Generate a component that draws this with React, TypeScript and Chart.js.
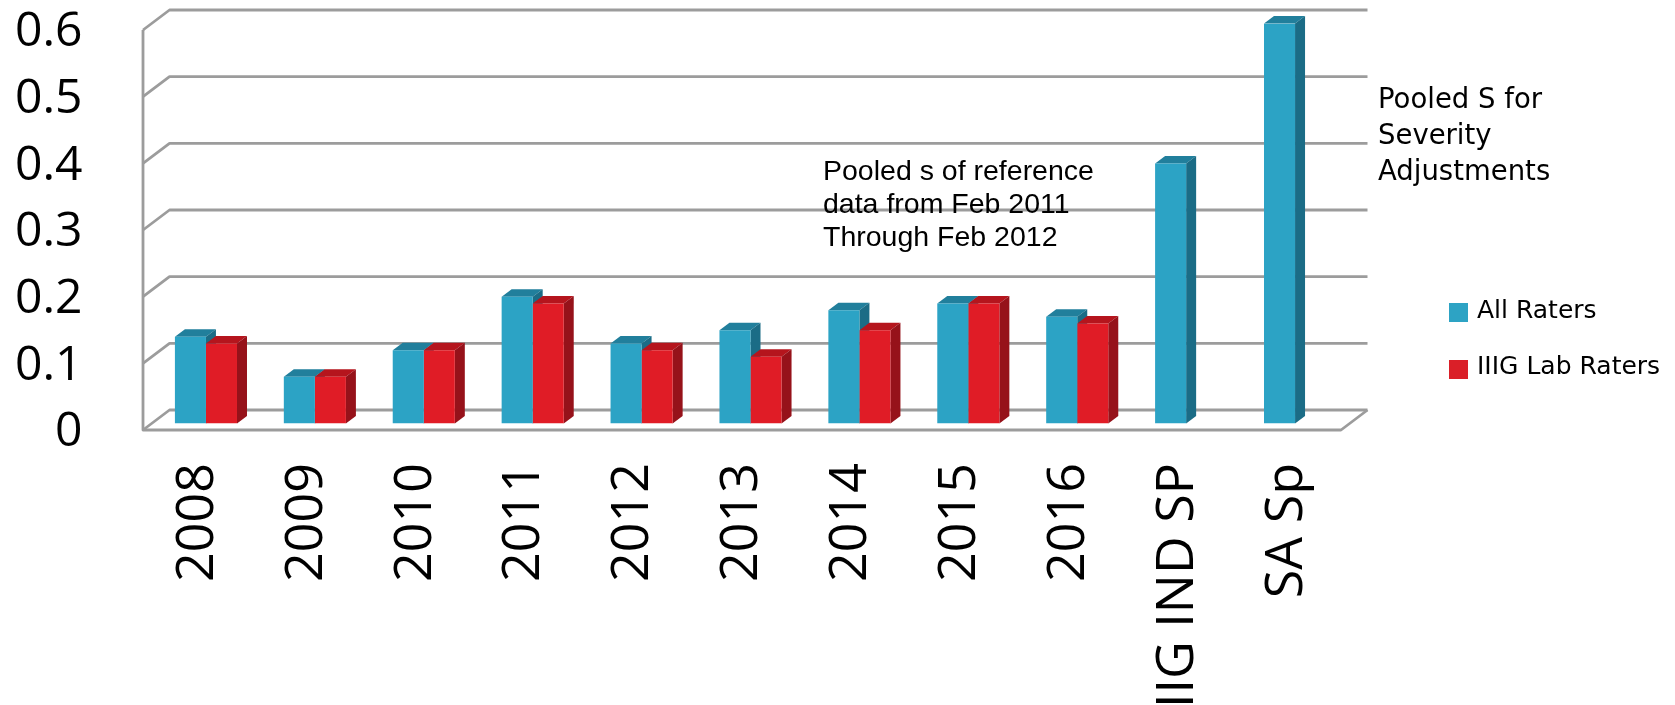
import { useEffect, useRef } from 'react';
import { Chart, registerables } from 'chart.js';

Chart.register(...registerables);

// ---- data ----
const categories = ['2008', '2009', '2010', '2011', '2012', '2013', '2014', '2015', '2016', 'IIIG IND SP', 'SA Sp'];
const allRaters = [0.13, 0.07, 0.11, 0.19, 0.12, 0.14, 0.17, 0.18, 0.16, 0.39, 0.6];
const labRaters = [0.12, 0.07, 0.11, 0.18, 0.11, 0.1, 0.14, 0.18, 0.15, null, null];
const seriesNames = ['All Raters', 'IIIG Lab Raters'];
const yMin = 0;
const yMax = 0.6;
const yStep = 0.1;
const noteLeft = ['Pooled s of reference', 'data from Feb 2011', 'Through Feb 2012'];
const noteRight = ['Pooled S for', 'Severity', 'Adjustments'];

// ---- styles ----
const frontColors = ['#2ca3c5', '#e01c26'];
const topColors = ['#217f9c', '#b5151d'];
const sideColors = ['#1b6c86', '#96121a'];
const legendColors = ['#2da3c4', '#da1f28'];
const FRONT = { dx: -8.5, dy: 6.5 };
const BACK = { dx: 18, dy: -13.5 };
const BAR_DEPTH = { dx: 10, dy: 7.5 };
const WALL_COLOR = '#9c9c9c';

const walls3d = {
  id: 'walls3d',
  beforeDatasetsDraw(chart: any) {
    const { ctx, chartArea: a } = chart;
    const ys = chart.scales.y;
    ctx.save();
    ctx.strokeStyle = WALL_COLOR;
    ctx.lineWidth = 2.8;
    ctx.lineJoin = 'round';
    const fl = a.left + FRONT.dx;
    const fr = a.right + FRONT.dx;
    const bl = a.left + BACK.dx;
    const br = a.right + BACK.dx;
    ys.ticks.forEach((t: any) => {
      const py = ys.getPixelForValue(t.value);
      ctx.beginPath();
      ctx.moveTo(fl, py + FRONT.dy);
      ctx.lineTo(bl, py + BACK.dy);
      ctx.lineTo(br, py + BACK.dy);
      ctx.stroke();
    });
    const y0 = ys.getPixelForValue(yMin);
    const yTop = ys.getPixelForValue(yMax);
    ctx.beginPath();
    ctx.moveTo(fl, yTop + FRONT.dy);
    ctx.lineTo(fl, y0 + FRONT.dy);
    ctx.lineTo(fr, y0 + FRONT.dy);
    ctx.lineTo(br, y0 + BACK.dy);
    ctx.stroke();

    // 3D faces of the bars (front faces drawn by Chart.js afterwards)
    chart.data.datasets.forEach((ds: any, di: number) => {
      const meta = chart.getDatasetMeta(di);
      meta.data.forEach((bar: any, i: number) => {
        const v = ds.data[i];
        if (v == null) return;
        const { x, y, base, width } = bar.getProps(['x', 'y', 'base', 'width'], true);
        const l = x - width / 2;
        const r = x + width / 2;
        ctx.fillStyle = topColors[di];
        ctx.beginPath();
        ctx.moveTo(l, y);
        ctx.lineTo(l + BAR_DEPTH.dx, y - BAR_DEPTH.dy);
        ctx.lineTo(r + BAR_DEPTH.dx, y - BAR_DEPTH.dy);
        ctx.lineTo(r, y);
        ctx.closePath();
        ctx.fill();
        ctx.fillStyle = sideColors[di];
        ctx.beginPath();
        ctx.moveTo(r, y);
        ctx.lineTo(r + BAR_DEPTH.dx, y - BAR_DEPTH.dy);
        ctx.lineTo(r + BAR_DEPTH.dx, base - BAR_DEPTH.dy);
        ctx.lineTo(r, base);
        ctx.closePath();
        ctx.fill();
      });
    });
    ctx.restore();
  },
  afterDraw(chart: any) {
    const { ctx } = chart;
    ctx.save();
    // legend
    ctx.textAlign = 'left';
    ctx.textBaseline = 'alphabetic';
    ctx.font = '25px "DejaVu Sans"';
    const legendY = [303, 360];
    const legendBase = [318, 374];
    chart.data.datasets.forEach((ds: any, di: number) => {
      ctx.fillStyle = legendColors[di];
      ctx.fillRect(1449, legendY[di], 19, 19);
      ctx.fillStyle = '#000';
      ctx.fillText(ds.label, 1477, legendBase[di]);
    });
    // notes
    ctx.font = '28.5px "Liberation Sans"';
    noteLeft.forEach((s, i) => ctx.fillText(s, 823, 180 + i * 33));
    ctx.font = '27.5px "DejaVu Sans"';
    noteRight.forEach((s, i) => ctx.fillText(s, 1378, 108 + i * 36));
    ctx.restore();
  },
};

const zeroPad = (s: any) => {
  s.paddingTop = 0;
  s.paddingBottom = 0;
  s.paddingLeft = 0;
  s.paddingRight = 0;
};

export default function App() {
  const ref = useRef<HTMLCanvasElement>(null);
  useEffect(() => {
    const chart = new Chart(ref.current as HTMLCanvasElement, {
      type: 'bar',
      data: {
        labels: categories,
        datasets: [
          {
            label: seriesNames[0],
            data: allRaters,
            backgroundColor: frontColors[0],
            borderWidth: 0,
            categoryPercentage: 0.57,
            barPercentage: 1,
          },
          {
            label: seriesNames[1],
            data: labRaters as any,
            backgroundColor: frontColors[1],
            borderWidth: 0,
            categoryPercentage: 0.57,
            barPercentage: 1,
          },
        ],
      },
      options: {
        responsive: false,
        animation: false,
        layout: { padding: { top: 23.5, right: 325.5, bottom: 0, left: 0 } },
        plugins: { legend: { display: false }, tooltip: { enabled: false } },
        scales: {
          x: {
            grid: { display: false },
            border: { display: false },
            ticks: {
              autoSkip: false,
              minRotation: 90,
              maxRotation: 90,
              padding: 31.5,
              labelOffset: -8,
              color: '#000',
              font: { family: '"Open Sans"', size: 52 },
            },
            afterFit: (s: any) => {
              s.height = 281.5;
              zeroPad(s);
            },
          },
          y: {
            min: yMin,
            max: yMax,
            grid: { display: false },
            border: { display: false },
            ticks: {
              stepSize: yStep,
              autoSkip: false,
              padding: 61,
              labelOffset: 9,
              color: '#000',
              font: { family: '"Open Sans"', size: 48 },
            },
            afterFit: (s: any) => {
              s.width = 151.5;
              zeroPad(s);
            },
          },
        },
      },
      plugins: [walls3d],
    });
    return () => chart.destroy();
  }, []);
  return (
    <div style={{ position: 'absolute', left: 0, top: 0, width: 1675, height: 705, background: '#fff' }}>
      <canvas ref={ref} width={1675} height={705} style={{ display: 'block' }} />
    </div>
  );
}
